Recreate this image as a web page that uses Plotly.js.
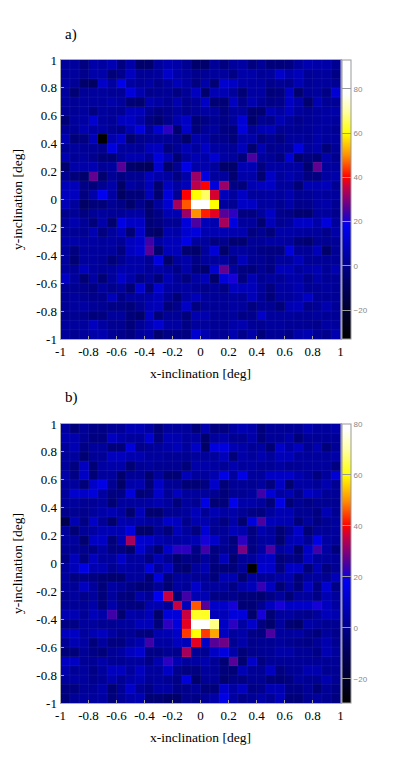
<!DOCTYPE html>
<html>
<head>
<meta charset="utf-8">
<script src="https://cdn.plot.ly/plotly-3.0.1.min.js"></script>
<style>
html,body { margin:0; padding:0; background:#ffffff; }
</style>
</head>
<body>
<div id="myDiv"></div>
<script>

// cell values, top row first, left to right
let zA = [
[3,3,-2,5,4,7,-2,5,-6,-6,3,6,5,1,-6,-6,2,-2,3,4,-2,2,-3,-3,-2,3,6,5,5,1],
[3,3,0,5,5,-3,0,9,2,2,3,11,5,3,0,2,3,3,-1,5,5,2,3,11,5,8,2,3,3,-1],
[5,2,-6,-8,11,4,17,4,2,4,0,3,8,4,-2,5,-4,12,10,5,4,4,0,2,0,7,2,3,3,1],
[3,-4,2,3,3,2,2,14,6,0,1,2,-2,2,9,-6,7,7,3,-4,4,4,-3,-2,10,-5,2,3,-1,13],
[3,2,3,3,3,5,3,-4,-5,6,4,1,6,0,2,10,-4,-4,9,0,6,2,-1,0,10,5,-5,7,2,2],
[2,2,3,-2,3,2,1,8,8,1,-2,0,3,0,2,4,3,-2,3,3,-5,-5,7,4,9,3,1,3,4,5],
[-4,3,4,12,3,2,9,10,5,-2,-5,0,6,10,-4,-1,1,-1,3,13,-6,1,0,7,3,0,2,3,4,3],
[2,2,6,4,4,1,-1,7,15,2,12,22,-6,11,-3,2,3,-2,-3,14,2,7,8,1,2,1,2,4,3,1],
[7,-3,-2,8,-33,6,11,-5,0,2,2,2,0,-6,5,5,0,0,-3,5,5,-2,1,-2,3,3,2,5,3,3],
[2,3,2,2,0,15,3,3,2,8,9,-2,2,7,3,10,4,3,2,8,-5,7,0,1,2,14,3,5,-3,2],
[6,2,3,0,-3,-4,3,6,6,2,14,7,-5,3,7,5,12,4,3,-3,25,3,2,-2,13,-6,-2,-4,5,0],
[-5,5,5,7,2,3,26,-6,-8,-10,12,-6,1,16,5,6,3,-6,-6,7,7,-2,4,4,4,4,-5,27,3,3],
[1,-3,-6,27,-5,2,-2,1,1,9,5,4,-2,5,32,15,3,3,-5,5,5,-5,10,3,6,3,-2,-2,4,5],
[8,8,-1,-3,1,5,-7,4,1,8,-5,9,4,8,35,40,14,32,-1,-3,7,9,10,3,3,-4,7,7,8,1],
[9,9,-2,5,18,4,-8,-3,-3,8,-5,14,1,40,60,66,37,8,3,10,3,3,4,3,6,1,2,4,3,3],
[8,3,-7,-3,-3,1,-1,-6,0,-6,3,12,33,46,85,93,60,3,1,10,10,3,4,1,5,0,0,4,5,1],
[0,2,-2,2,3,2,2,4,4,-5,-1,7,7,32,50,42,38,26,22,-2,-2,3,10,0,-1,-5,-5,3,3,0],
[3,6,2,-3,5,-5,16,10,10,-4,-2,2,1,14,25,8,6,33,15,3,3,-5,8,1,3,10,10,5,14,3],
[3,2,1,7,-2,3,8,-4,11,-5,-7,6,5,12,14,6,7,7,6,6,-2,1,-3,5,5,4,3,3,0,5],
[5,5,4,4,3,4,2,9,11,24,4,8,8,16,3,3,-2,0,-5,-5,2,2,4,4,3,-3,-5,1,1,2],
[3,-2,3,3,3,3,-2,9,12,26,-5,8,8,-5,-6,3,13,-6,3,3,1,-1,-2,-2,14,2,2,8,-6,2],
[3,-4,3,3,2,-3,1,5,5,1,15,-6,3,5,-1,3,3,3,-2,8,1,1,-1,3,3,8,2,2,2,2],
[3,2,8,3,2,3,6,5,5,2,5,3,-1,5,-3,-6,12,27,3,-2,-3,1,-2,8,8,3,5,7,2,6],
[10,3,-4,4,-4,3,11,5,-1,3,-3,7,2,-2,4,8,-6,14,20,-2,7,1,3,2,5,5,0,5,2,2],
[2,1,0,-2,3,0,3,-4,12,-3,12,4,3,4,2,0,2,-1,9,8,8,3,-2,4,4,6,2,2,3,2],
[2,3,1,0,0,8,-1,3,3,5,8,2,-4,4,8,3,2,2,3,2,8,2,-3,3,3,5,10,2,2,2],
[2,3,4,2,1,-1,-1,-3,1,7,8,-3,0,10,-2,2,2,2,4,3,-2,2,1,-3,7,8,0,2,6,2],
[1,1,0,-3,-2,3,3,-3,-6,10,-3,2,2,-3,6,6,2,2,3,-1,0,11,3,3,3,2,2,3,2,2],
[3,3,3,9,4,1,1,-3,2,7,12,4,4,-1,3,3,2,2,5,6,2,1,3,3,2,2,1,0,4,3],
[3,1,3,5,6,2,0,-2,3,5,-5,-1,-1,-2,12,6,2,2,6,0,5,-3,2,2,-1,5,7,2,0,6]
];

let zB = [
[4,-3,2,-1,-1,2,2,7,7,4,-3,3,3,3,-3,6,-2,-2,4,7,5,-3,2,2,2,2,6,3,3,5],
[6,6,1,-2,-2,9,5,3,3,12,-2,7,6,3,4,-6,3,5,1,1,5,-3,2,2,5,-3,2,2,2,2],
[3,7,-1,3,3,-3,-3,14,0,2,3,5,8,3,10,-7,15,15,7,5,2,4,-4,11,4,9,1,6,-3,2],
[3,3,-4,2,2,9,9,6,6,3,3,2,2,1,3,3,3,8,-3,5,3,6,3,8,8,3,3,3,3,5],
[3,-2,9,-4,4,5,5,-4,2,3,1,1,1,-3,5,5,4,2,6,3,4,2,2,4,1,2,3,3,3,-2],
[5,-1,10,-4,3,3,-6,2,2,-5,3,-4,-4,8,3,3,6,16,3,16,3,3,10,10,11,6,3,-2,3,13],
[3,3,-3,11,16,1,-7,5,6,-4,10,2,1,-4,-4,-2,11,-3,2,2,1,3,-2,10,-5,4,4,2,6,1],
[3,12,11,14,4,-2,-1,14,-4,-2,11,2,9,3,3,3,1,-3,1,1,3,24,13,4,7,0,10,7,2,2],
[3,3,1,2,3,-4,3,3,3,4,6,3,-3,3,1,16,-4,-3,17,5,5,3,-3,16,-4,1,-1,1,1,1],
[0,1,0,3,5,7,4,-5,8,-5,-5,1,1,3,8,2,7,4,5,2,-1,-2,3,7,7,1,1,-2,7,1],
[-14,7,-1,11,2,-6,6,5,5,3,3,11,9,0,6,6,2,-2,5,-5,14,25,8,7,7,-3,3,-2,1,3],
[3,-4,2,4,7,7,7,15,-6,-6,2,-3,8,3,-2,13,1,2,8,6,-2,6,3,-4,2,11,-4,2,2,3],
[3,3,-5,10,10,-3,7,33,12,11,6,4,4,5,7,20,11,2,-3,22,-1,3,4,-5,6,8,2,16,4,2],
[1,1,0,-1,4,-2,-2,-6,12,3,-5,11,22,22,-1,24,-2,0,-1,29,-2,4,25,3,7,-6,10,24,4,-3],
[-1,8,-2,9,3,3,11,3,4,-2,7,1,-5,-1,-2,3,-2,8,-5,2,3,9,10,-3,0,-2,9,3,3,2],
[3,8,16,6,7,1,5,4,3,15,2,9,-3,-5,3,7,-3,-3,-3,2,-29,12,11,-2,10,10,-3,7,-2,1],
[3,-2,-1,-2,-4,-5,-5,3,3,-5,14,-3,3,3,1,2,-3,7,7,-5,4,2,2,5,6,-3,3,3,1,8],
[3,2,9,3,-3,4,2,-1,-4,-3,2,-4,4,2,11,3,3,3,-1,5,8,23,9,-4,4,-3,9,-2,12,-1],
[1,3,0,3,-3,3,-2,-3,5,1,18,36,-3,24,7,7,-1,-1,0,-3,-3,-5,-1,3,-4,3,3,-1,7,3],
[2,2,2,5,-3,5,-1,-2,-3,6,6,2,36,8,46,26,11,11,20,-4,-4,1,9,20,10,11,11,20,9,4],
[7,7,2,8,5,24,-5,5,4,8,-6,14,14,36,62,62,8,8,14,14,-6,20,-4,3,4,1,0,3,8,6],
[-1,-1,3,3,1,1,3,3,8,8,-3,22,14,38,80,80,68,10,22,4,11,-2,-6,3,-4,-6,5,3,1,1],
[9,10,3,7,9,4,0,2,-2,-3,6,7,11,44,60,44,52,9,3,5,-1,-2,25,3,3,4,0,-3,3,0],
[2,7,4,-3,3,-2,-2,3,6,24,4,4,9,8,38,10,26,28,1,5,0,1,1,3,1,0,-1,2,6,1],
[-3,-3,2,-1,-3,2,4,9,12,-1,-1,1,0,33,2,1,10,15,5,-3,0,1,2,5,5,2,2,-1,7,3],
[10,10,2,2,5,2,1,3,3,-1,6,22,7,3,4,6,2,-4,26,-5,11,-2,2,2,2,2,2,2,2,2],
[6,2,3,-1,3,9,9,3,9,3,3,10,0,-2,-2,3,2,-3,-4,7,2,1,9,-2,1,2,6,6,1,1],
[3,4,3,0,2,6,1,5,7,2,3,1,-1,14,-6,2,2,-5,-1,-2,1,1,-3,-4,-2,3,1,1,6,1],
[-2,-2,2,2,5,-4,2,11,2,-1,4,4,-1,0,2,-3,-3,11,4,9,-1,0,7,7,-1,-1,2,-4,2,-1],
[-3,2,3,3,4,-3,2,5,7,-4,-4,-6,-6,0,-1,2,5,16,4,0,2,5,2,8,-3,-3,1,3,1,-2]
];

let zRangeA = [-33, 93];
let zRangeB = [-29.5, 80];

// palette of the colour bars, given in data units
let paletteValues = [-33, -20, -5, 5, 18, 24, 31, 36, 40, 50, 60, 70, 78];
let paletteColors = ['#000000', '#000030', '#000070', '#0000a8', '#0000f0', '#4000a8',
                     '#900070', '#c80040', '#ff0000', '#ff9000', '#ffff00', '#ffffa8', '#ffffff'];

let tickVals = [-1, -0.8, -0.6, -0.4, -0.2, 0, 0.2, 0.4, 0.6, 0.8, 1];
let tickText = ['-1', '-0.8', '-0.6', '-0.4', '-0.2', '0', '0.2', '0.4', '0.6', '0.8', '1'];
let cbarVals = [-20, 0, 20, 40, 60, 80];

let panelLabels = ['a)', 'b)'];
let xTitle = 'x-inclination [deg]';
let yTitle = 'y-inclination [deg]';

let pageW = 400;
let pageH = 763;
let nCells = 30;
let serif = '"Liberation Serif", serif';

function makeScale(zr) {
  let scale = [];
  for (let i = 0; i < paletteValues.length; i++) {
    let f = (paletteValues[i] - zr[0]) / (zr[1] - zr[0]);
    if (f < 0) f = 0;
    if (f > 1) f = 1;
    scale.push([f, paletteColors[i]]);
  }
  if (scale[scale.length - 1][0] < 1)
    scale.push([1, '#ffffff']);
  return scale;
}

function makeTrace(z, zr, xname, yname, top, bottom) {
  return {
    type: 'heatmap',
    z: z,
    x0: -1 + 1 / nCells,
    dx: 2 / nCells,
    y0: 1 - 1 / nCells,
    dy: -2 / nCells,
    zmin: zr[0],
    zmax: zr[1],
    xaxis: xname,
    yaxis: yname,
    zsmooth: false,
    hoverongaps: false,
    colorscale: makeScale(zr),
    colorbar: {
      x: 342 / pageW,
      xanchor: 'left',
      xpad: 0,
      ypad: 0,
      y: 1 - top / pageH,
      yanchor: 'top',
      len: (bottom - top) / pageH,
      lenmode: 'fraction',
      thickness: 9,
      thicknessmode: 'pixels',
      outlinecolor: '#999999',
      outlinewidth: 1,
      tickmode: 'array',
      tickvals: cbarVals,
      ticks: 'inside',
      ticklen: 9,
      tickwidth: 1,
      tickcolor: '#999999',
      ticklabelposition: 'outside',
      tickfont: { family: '"Liberation Sans", sans-serif', size: 8, color: '#888888' }
    }
  };
}

function makeAxis(title, anchor, domain, standoff) {
  return {
    domain: domain,
    anchor: anchor,
    range: [-1, 1],
    tickmode: 'array',
    tickvals: tickVals,
    ticktext: tickText,
    tickangle: 0,
    ticks: 'inside',
    ticklen: 3,
    tickcolor: '#999999',
    showline: true,
    mirror: true,
    linecolor: '#aaaaaa',
    linewidth: 1,
    showgrid: false,
    zeroline: false,
    automargin: false,
    tickfont: { family: serif, size: 13, color: '#000000' },
    title: { text: title, standoff: standoff, font: { family: serif, size: 13.5, color: '#000000' } }
  };
}

// faint seams between the cells
function cellSeams(xname, yname) {
  let seams = [];
  for (let i = 1; i < nCells; i++) {
    let p = -1 + 2 * i / nCells;
    seams.push({ type: 'line', xref: xname, yref: yname, x0: p, x1: p, y0: -1, y1: 1, layer: 'above',
                 line: { color: 'rgba(255,255,255,0.05)', width: 1 } });
    seams.push({ type: 'line', xref: xname, yref: yname, x0: -1, x1: 1, y0: p, y1: p, layer: 'above',
                 line: { color: 'rgba(255,255,255,0.05)', width: 1 } });
  }
  return seams;
}

function plotIt() {
  let left = 60.5, right = 340.5;
  let topA = 60, botA = 339;
  let topB = 424, botB = 703;
  let xDom = [left / pageW, right / pageW];

  let data = [
    makeTrace(zA, zRangeA, 'x', 'y', topA, botA),
    makeTrace(zB, zRangeB, 'x2', 'y2', topB, botB)
  ];

  let layout = {
    width: pageW,
    height: pageH,
    margin: { l: 0, r: 0, t: 0, b: 0, pad: 0 },
    paper_bgcolor: '#ffffff',
    plot_bgcolor: '#000080',
    showlegend: false,
    xaxis: makeAxis(xTitle, 'y', xDom, 10),
    yaxis: makeAxis(yTitle, 'x', [1 - botA / pageH, 1 - topA / pageH], 10),
    xaxis2: makeAxis(xTitle, 'y2', xDom, 10),
    yaxis2: makeAxis(yTitle, 'x2', [1 - botB / pageH, 1 - topB / pageH], 10),
    shapes: cellSeams('x', 'y').concat(cellSeams('x2', 'y2')),
    annotations: [
      { text: panelLabels[0], xref: 'paper', yref: 'paper', x: 63 / pageW, y: 1 - 35 / pageH,
        xanchor: 'left', yanchor: 'middle', showarrow: false, font: { family: serif, size: 15, color: '#000000' } },
      { text: panelLabels[1], xref: 'paper', yref: 'paper', x: 63 / pageW, y: 1 - 397 / pageH,
        xanchor: 'left', yanchor: 'middle', showarrow: false, font: { family: serif, size: 15, color: '#000000' } }
    ]
  };

  Plotly.newPlot('myDiv', data, layout, { displayModeBar: false, staticPlot: true });
}

plotIt();
</script>
</body>
</html>
